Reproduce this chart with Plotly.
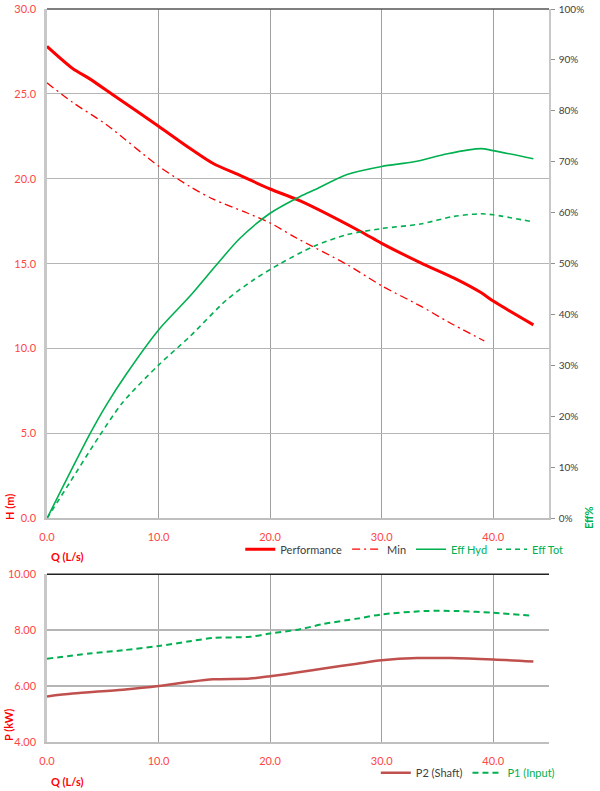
import plotly.graph_objects as go

# pump curves
q_perf = [0, 2.3, 3.8, 5.9, 10, 12.8, 14.9, 17.3, 20, 22.7, 28.1, 30, 33.5, 36.5, 38.9, 40, 43.6]
h_perf = [27.8, 26.5, 25.9, 24.95, 23.1, 21.8, 20.9, 20.2, 19.4, 18.7, 16.9, 16.2, 15.05, 14.15, 13.3, 12.8, 11.4]

q_min = [0, 2.3, 5.3, 10, 12.8, 14.9, 17.9, 20, 22.4, 26.9, 30, 33.5, 35.9, 39.2]
h_min = [25.65, 24.5, 23.2, 20.75, 19.55, 18.8, 18.0, 17.4, 16.5, 14.95, 13.7, 12.5, 11.6, 10.45]

q_hyd = [0, 3.8, 5.3, 7.1, 10, 12.8, 15.2, 17.3, 20, 22.7, 24, 26.9, 30, 32.9, 35.9, 38.9, 40, 43.6]
eff_hyd = [0, 16.4, 22.2, 28.3, 37.0, 43.6, 49.8, 55.0, 59.9, 63.2, 64.5, 67.5, 69.1, 70.0, 71.6, 72.6, 72.2, 70.6]

q_tot = [0, 2.0, 4.7, 6.8, 10, 12.8, 16.1, 18.5, 20.9, 23.9, 26.9, 30, 33.5, 36.5, 38.9, 40, 43.6]
eff_tot = [0, 6.9, 16.2, 22.8, 30.1, 35.7, 42.9, 46.8, 50.0, 53.4, 55.7, 56.9, 57.8, 59.3, 59.8, 59.6, 58.2]

q_p2 = [0, 2.3, 6.8, 10, 12.8, 14.9, 18.2, 20, 22.7, 24.8, 27.8, 30, 33.2, 36.2, 40, 43.6]
p2 = [5.63, 5.73, 5.87, 6.0, 6.15, 6.24, 6.27, 6.35, 6.5, 6.63, 6.8, 6.92, 7.0, 7.0, 6.95, 6.88]

q_p1 = [0, 3.8, 6.8, 10, 12.8, 14.9, 18.2, 20, 22.7, 24.8, 27.8, 30, 33.8, 36.8, 40, 43.6]
p1 = [6.98, 7.16, 7.28, 7.43, 7.6, 7.72, 7.76, 7.88, 8.03, 8.22, 8.41, 8.56, 8.68, 8.68, 8.62, 8.51]

x_ticks = [0, 10, 20, 30, 40]
h_ticks = [0, 5, 10, 15, 20, 25, 30]
eff_ticks = [0, 10, 20, 30, 40, 50, 60, 70, 80, 90, 100]
p_ticks = [4, 6, 8, 10]

RED = "#FF0000"
LABEL_RED = "#FF4545"
GREEN = "#00B050"
BROWN = "#C0504D"
FONT = "Lato"
SM = 0.8

fig = go.Figure()

fig.add_trace(go.Scatter(x=q_perf, y=h_perf, name="Performance", mode="lines",
                         line=dict(color=RED, width=3, shape="spline", smoothing=SM),
                         xaxis="x", yaxis="y", legend="legend"))
fig.add_trace(go.Scatter(x=q_min, y=h_min, name="Min", mode="lines",
                         line=dict(color=RED, width=1.3, dash="8px,4px,2px,4px", shape="spline", smoothing=SM),
                         xaxis="x", yaxis="y", legend="legend"))
fig.add_trace(go.Scatter(x=q_hyd, y=eff_hyd, name="<span style='color:%s'>Eff Hyd</span>" % GREEN, mode="lines",
                         line=dict(color=GREEN, width=1.6, shape="spline", smoothing=SM),
                         xaxis="x", yaxis="y3", legend="legend"))
fig.add_trace(go.Scatter(x=q_tot, y=eff_tot, name="<span style='color:%s'>Eff Tot</span>" % GREEN, mode="lines",
                         line=dict(color=GREEN, width=1.6, dash="5px,4px", shape="spline", smoothing=SM),
                         xaxis="x", yaxis="y3", legend="legend"))

fig.add_trace(go.Scatter(x=q_p2, y=p2, name="P2 (Shaft)", mode="lines",
                         line=dict(color=BROWN, width=2.5, shape="spline", smoothing=SM),
                         xaxis="x2", yaxis="y2", legend="legend2"))
fig.add_trace(go.Scatter(x=q_p1, y=p1, name="<span style='color:%s'>P1 (Input)</span>" % GREEN, mode="lines",
                         line=dict(color=GREEN, width=2, dash="6px,4px", shape="spline", smoothing=SM),
                         xaxis="x2", yaxis="y2", legend="legend2"))

xcommon = dict(range=[0, 45], tickvals=x_ticks, tickformat=".1f", showgrid=True,
               gridcolor="#A0A0A0", gridwidth=1.2, zeroline=False, showline=True,
               linecolor="#BFBFBF", linewidth=1.5, ticks="", ticklabelstandoff=8,
               automargin=False,
               tickfont=dict(family=FONT, size=11, color=LABEL_RED))

fig.update_layout(
    width=600, height=791,
    margin=dict(l=47, r=51, t=9, b=49, autoexpand=False),
    paper_bgcolor="white", plot_bgcolor="white",
    font=dict(family=FONT, size=11, color="#404040"),
    xaxis=dict(domain=[0, 1], anchor="y", **xcommon),
    yaxis=dict(domain=[0.305, 1], range=[0, 30], tickvals=h_ticks, tickformat=".1f",
               showgrid=True, gridcolor="#B5B5B5", gridwidth=1.2, zeroline=False,
               showline=True, linecolor="#C8C8C8", linewidth=2.5, ticks="",
               ticklabelstandoff=6, automargin=False,
               tickfont=dict(family=FONT, size=11, color=LABEL_RED)),
    yaxis3=dict(overlaying="y", side="right", anchor="x", range=[0, 100], tickvals=eff_ticks,
                ticktext=["%d%%" % v for v in eff_ticks], showgrid=False, zeroline=False,
                showline=True, linecolor="#C8C8C8", linewidth=1.5, ticks="outside", ticklen=4,
                tickcolor="#909090", ticklabelstandoff=2, automargin=False,
                tickfont=dict(family=FONT, size=10, color="#404040")),
    xaxis2=dict(domain=[0, 1], anchor="y2", **xcommon),
    yaxis2=dict(domain=[0, 0.229], range=[4, 10], tickvals=p_ticks, tickformat=".2f",
                showgrid=True, gridcolor="#B5B5B5", gridwidth=1.5, zeroline=False,
                showline=True, linecolor="#C8C8C8", linewidth=2.5, ticks="",
                ticklabelstandoff=6, automargin=False,
                tickfont=dict(family=FONT, size=11, color=LABEL_RED)),
    legend=dict(orientation="h", x=0.385, y=0.263, xanchor="left", yanchor="middle",
                font=dict(family=FONT, size=11, color="#404040"), bgcolor="rgba(0,0,0,0)",
                itemwidth=30, tracegroupgap=0),
    legend2=dict(orientation="h", x=0.655, y=-0.042, xanchor="left", yanchor="middle",
                 font=dict(family=FONT, size=11, color="#404040"), bgcolor="rgba(0,0,0,0)",
                 itemwidth=30),
    showlegend=True,
)

# dark top borders of both plot areas
fig.add_shape(type="line", xref="paper", yref="paper", x0=0, x1=1, y0=1, y1=1,
              line=dict(color="#555555", width=1.5))
fig.add_shape(type="line", xref="paper", yref="paper", x0=0, x1=1, y0=0.229, y1=0.229,
              line=dict(color="#222222", width=1.5))

title_font = dict(family=FONT, size=11, color=RED)
ann = dict(xref="paper", yref="paper", showarrow=False, xanchor="center", yanchor="middle")
fig.add_annotation(text="<b>H (m)</b>", x=-0.0757, y=0.3206, textangle=-90, font=title_font, **ann)
fig.add_annotation(text="<b>Q (L/s)</b>", x=0.04, y=0.2524, font=title_font, **ann)
fig.add_annotation(text="<b>Eff%</b>", x=1.0797, y=0.3056, textangle=-90,
                   font=dict(family=FONT, size=11, color=GREEN), **ann)
fig.add_annotation(text="<b>P (kW)</b>", x=-0.0757, y=0.0232, textangle=-90, font=title_font, **ann)
fig.add_annotation(text="<b>Q (L/s)</b>", x=0.04, y=-0.0545, font=title_font, **ann)

fig.write_html("out.html", config={"displayModeBar": False},
               post_script="document.body.style.margin='0';")
